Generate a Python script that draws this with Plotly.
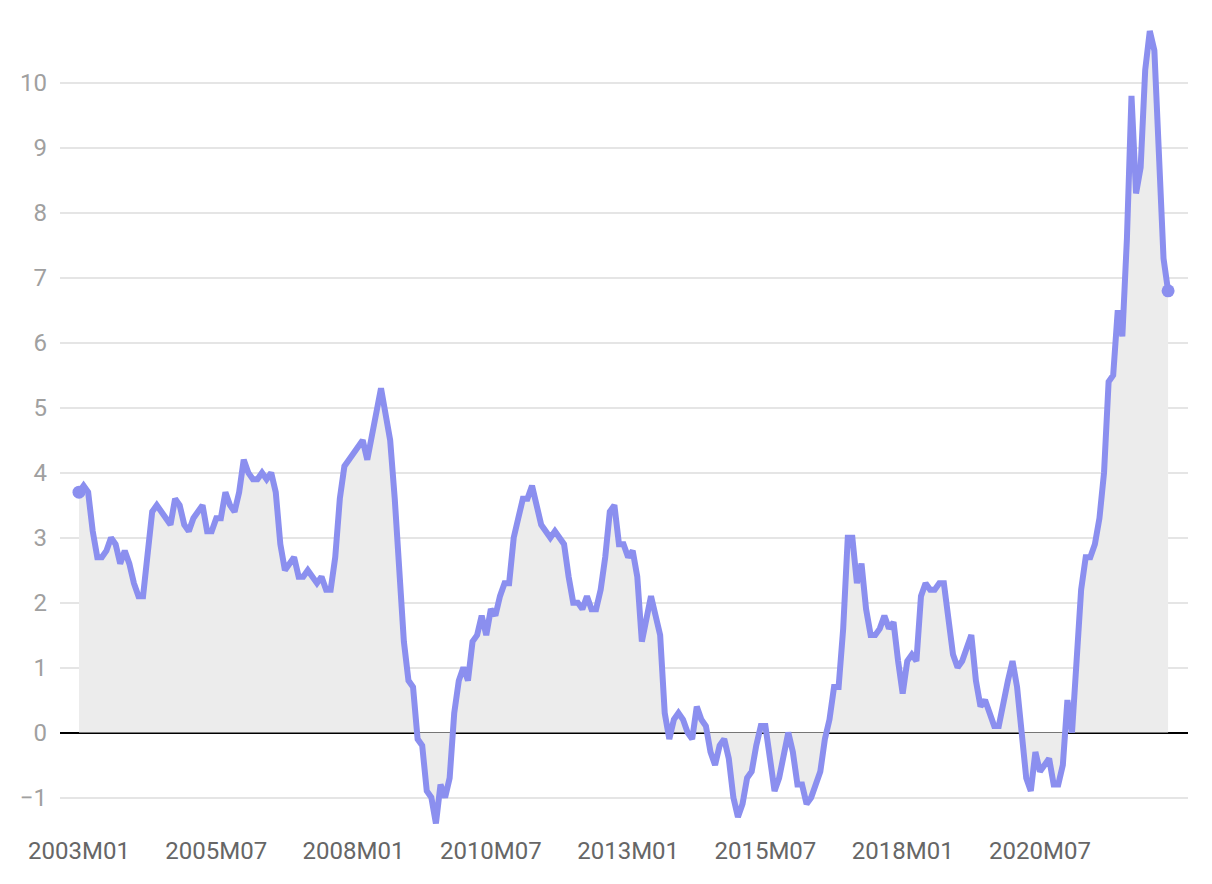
import plotly.graph_objects as go

# Spain CPI, annual rate (%), monthly 2003M01 - 2022M11
years = list(range(2003, 2023))
values = {
    2003: [3.7, 3.8, 3.7, 3.1, 2.7, 2.7, 2.8, 3.0, 2.9, 2.6, 2.8, 2.6],
    2004: [2.3, 2.1, 2.1, 2.7, 3.4, 3.5, 3.4, 3.3, 3.2, 3.6, 3.5, 3.2],
    2005: [3.1, 3.3, 3.4, 3.5, 3.1, 3.1, 3.3, 3.3, 3.7, 3.5, 3.4, 3.7],
    2006: [4.2, 4.0, 3.9, 3.9, 4.0, 3.9, 4.0, 3.7, 2.9, 2.5, 2.6, 2.7],
    2007: [2.4, 2.4, 2.5, 2.4, 2.3, 2.4, 2.2, 2.2, 2.7, 3.6, 4.1, 4.2],
    2008: [4.3, 4.4, 4.5, 4.2, 4.6, 5.0, 5.3, 4.9, 4.5, 3.6, 2.4, 1.4],
    2009: [0.8, 0.7, -0.1, -0.2, -0.9, -1.0, -1.4, -0.8, -1.0, -0.7, 0.3, 0.8],
    2010: [1.0, 0.8, 1.4, 1.5, 1.8, 1.5, 1.9, 1.8, 2.1, 2.3, 2.3, 3.0],
    2011: [3.3, 3.6, 3.6, 3.8, 3.5, 3.2, 3.1, 3.0, 3.1, 3.0, 2.9, 2.4],
    2012: [2.0, 2.0, 1.9, 2.1, 1.9, 1.9, 2.2, 2.7, 3.4, 3.5, 2.9, 2.9],
    2013: [2.7, 2.8, 2.4, 1.4, 1.7, 2.1, 1.8, 1.5, 0.3, -0.1, 0.2, 0.3],
    2014: [0.2, 0.0, -0.1, 0.4, 0.2, 0.1, -0.3, -0.5, -0.2, -0.1, -0.4, -1.0],
    2015: [-1.3, -1.1, -0.7, -0.6, -0.2, 0.1, 0.1, -0.4, -0.9, -0.7, -0.3, 0.0],
    2016: [-0.3, -0.8, -0.8, -1.1, -1.0, -0.8, -0.6, -0.1, 0.2, 0.7, 0.7, 1.6],
    2017: [3.0, 3.0, 2.3, 2.6, 1.9, 1.5, 1.5, 1.6, 1.8, 1.6, 1.7, 1.1],
    2018: [0.6, 1.1, 1.2, 1.1, 2.1, 2.3, 2.2, 2.2, 2.3, 2.3, 1.7, 1.2],
    2019: [1.0, 1.1, 1.3, 1.5, 0.8, 0.4, 0.5, 0.3, 0.1, 0.1, 0.4, 0.8],
    2020: [1.1, 0.7, 0.0, -0.7, -0.9, -0.3, -0.6, -0.5, -0.4, -0.8, -0.8, -0.5],
    2021: [0.5, 0.0, 1.3, 2.2, 2.7, 2.7, 2.9, 3.3, 4.0, 5.4, 5.5, 6.5],
    2022: [6.1, 7.6, 9.8, 8.3, 8.7, 10.2, 10.8, 10.5, 8.9, 7.3, 6.8],
}

months = []
rates = []
for y in years:
    for i, v in enumerate(values[y]):
        months.append("%dM%02d" % (y, i + 1))
        rates.append(v)

tick_labels = ["2003M01", "2005M07", "2008M01", "2010M07", "2013M01", "2015M07", "2018M01", "2020M07"]
y_ticks = [-1, 0, 1, 2, 3, 4, 5, 6, 7, 8, 9, 10]

line_color = "#8b8fef"

fig = go.Figure()
# grey area between the series and zero
fig.add_trace(go.Scatter(
    x=months, y=rates, mode="lines", fill="tozeroy",
    fillcolor="#ececec", line=dict(color="rgba(0,0,0,0)", width=0),
    hoverinfo="skip", showlegend=False))
fig.add_trace(go.Scatter(
    x=months, y=rates, mode="lines",
    line=dict(color=line_color, width=6),
    showlegend=False))
# dots on first and last values
fig.add_trace(go.Scatter(
    x=[months[0], months[-1]], y=[rates[0], rates[-1]], mode="markers",
    marker=dict(size=13, color=line_color, opacity=1),
    showlegend=False))

fig.update_layout(
    width=1212, height=884,
    margin=dict(l=52, r=32, t=10, b=62),
    plot_bgcolor="white", paper_bgcolor="white",
    font=dict(family="Roboto", size=24),
    xaxis=dict(type="category", tickmode="array", tickvals=tick_labels,
               ticktext=tick_labels, range=[-4.15, 242.35],
               showgrid=False, zeroline=False, showline=False,
               tickfont=dict(color="#666666", size=24), ticks="",
               ticklabelstandoff=4),
    yaxis=dict(range=[-1.5, 11], tickvals=y_ticks, showgrid=True,
               gridcolor="#e5e5e5", gridwidth=1.5,
               zeroline=True, zerolinecolor="black", zerolinewidth=2,
               tickfont=dict(color="#a0a0a0", size=24), ticklabelstandoff=12),
)

fig.write_html("out.html")
